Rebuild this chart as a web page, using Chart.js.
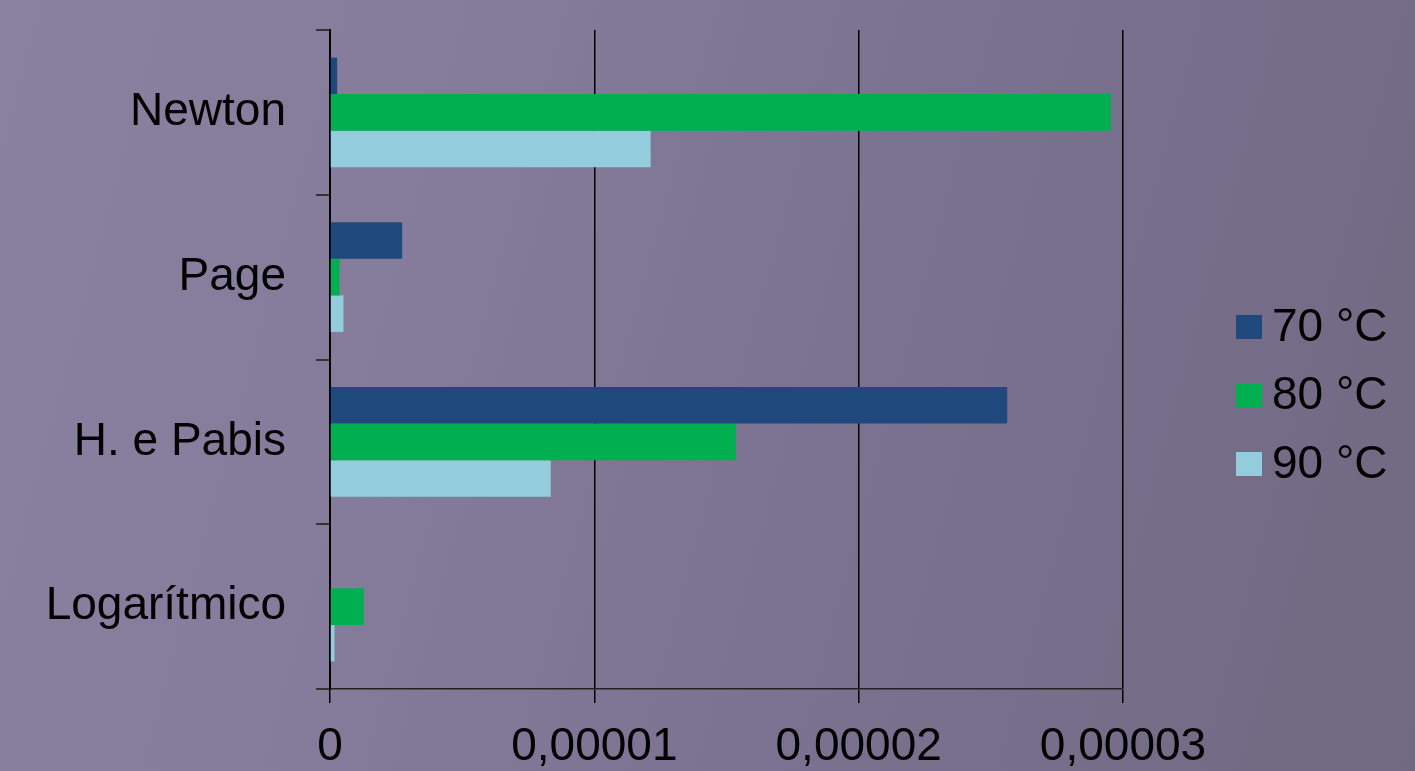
<!DOCTYPE html>
<html>
<head>
<meta charset="utf-8">
<script src="https://cdn.jsdelivr.net/npm/chart.js@4/dist/chart.umd.min.js"></script>
<style>
    html, body {
        margin: 0;
        padding: 0;
        width: 1415px;
        height: 771px;
        overflow: hidden;
        background: linear-gradient(105deg, #8a80a0 0%, #857c9c 30%, #7b7291 60%, #716881 100%);
    }
    canvas {
        display: block;
    }
</style>
</head>
<body>
<canvas id="myBarChart" width="1415" height="771"></canvas>
<script>
const categories = ['Newton', 'Page', 'H. e Pabis', 'Logarítmico'];
const seriesNames = ['70 °C', '80 °C', '90 °C'];
const seriesColors = ['#1f497d', '#00b050', '#93cddd'];
const values70 = [0.00000027, 0.00000273, 0.00002562, 0];
const values80 = [0.00002954, 0.00000036, 0.00001535, 0.00000128];
const values90 = [0.00001213, 0.00000051, 0.00000835, 0.00000017];
const xTicks = [0, 0.00001, 0.00002, 0.00003];

document.addEventListener('DOMContentLoaded', function () {
    const ctx = document.getElementById('myBarChart').getContext('2d');
    const fontFamily = '"Liberation Sans", Arial, sans-serif';

    // legend drawn by hand so the box/text spacing stays tight
    const sideLegend = {
        id: 'sideLegend',
        afterDraw(chart, args, options) {
            const {ctx} = chart;
            const {x, y, rowGap, boxW, boxH, textGap, fontSize} = options;
            ctx.save();
            ctx.font = fontSize + 'px ' + fontFamily;
            ctx.textBaseline = 'middle';
            ctx.textAlign = 'left';
            chart.data.datasets.forEach(function (ds, i) {
                const cy = y + i * rowGap;
                ctx.fillStyle = ds.backgroundColor;
                ctx.fillRect(x, cy - boxH / 2, boxW, boxH);
                ctx.fillStyle = '#000000';
                ctx.fillText(ds.label, x + boxW + textGap, cy + 1);
            });
            ctx.restore();
        }
    };

    const seriesValues = [values70, values80, values90];

    const myBarChart = new Chart(ctx, {
        type: 'bar',
        data: {
            labels: categories,
            datasets: seriesNames.map(function (name, i) {
                return {
                    label: name,
                    data: seriesValues[i],
                    backgroundColor: seriesColors[i],
                    borderWidth: 0,
                    categoryPercentage: 0.665,
                    barPercentage: 1.0
                };
            })
        },
        options: {
            indexAxis: 'y',
            responsive: false,
            maintainAspectRatio: false,
            animation: false,
            devicePixelRatio: 1,
            layout: {
                padding: {top: 30, right: 292, left: 0, bottom: 0}
            },
            scales: {
                x: {
                    min: 0,
                    max: 0.00003,
                    afterBuildTicks(scale) {
                        scale.ticks = xTicks.map(function (v) { return {value: v}; });
                    },
                    afterFit(scale) {
                        scale.height = 82;
                    },
                    ticks: {
                        color: '#000000',
                        padding: 17,
                        maxRotation: 0,
                        font: {family: fontFamily, size: 46},
                        callback(value) {
                            return value === 0 ? '0' : value.toFixed(5).replace('.', ',');
                        }
                    },
                    grid: {
                        color: '#000000',
                        lineWidth: 1.5,
                        tickLength: 14,
                        drawTicks: true
                    },
                    border: {
                        display: true,
                        color: '#222222',
                        width: 1.5
                    }
                },
                y: {
                    afterFit(scale) {
                        scale.width = 330;
                        scale.paddingTop = 0;
                        scale.paddingBottom = 0;
                    },
                    ticks: {
                        color: '#000000',
                        padding: 30,
                        font: {family: fontFamily, size: 46}
                    },
                    grid: {
                        offset: true,
                        drawOnChartArea: false,
                        drawTicks: true,
                        tickLength: 14,
                        color: '#333333',
                        lineWidth: 2
                    },
                    border: {
                        display: true,
                        color: '#000000',
                        width: 2
                    }
                }
            },
            plugins: {
                legend: {display: false},
                tooltip: {enabled: false},
                sideLegend: {
                    x: 1236,
                    y: 327,
                    rowGap: 68.5,
                    boxW: 26,
                    boxH: 24,
                    textGap: 10,
                    fontSize: 46
                }
            }
        },
        plugins: [sideLegend]
    });
});
</script>
</body>
</html>
